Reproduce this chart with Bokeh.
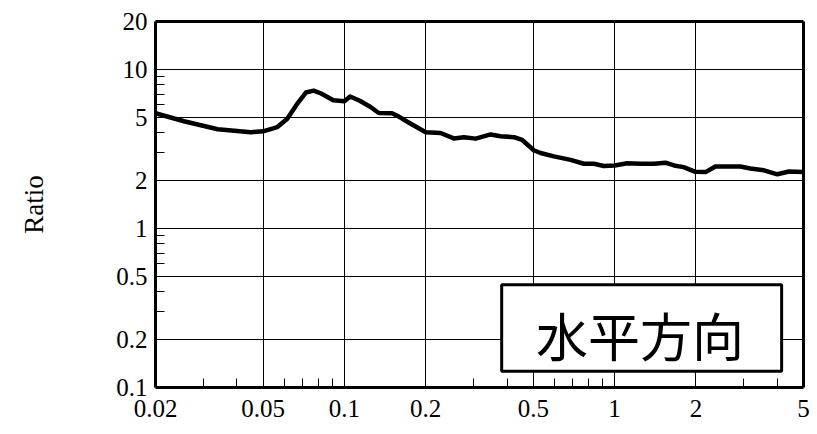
from bokeh.plotting import figure
from bokeh.models import (Range1d, FixedTicker, CustomJSTickFormatter,
                          BoxAnnotation, Label, LogAxis)
from bokeh.embed import file_html
from bokeh.resources import INLINE

# Spectral ratio curve (frequency-like abscissa vs ratio)
freq = [0.02, 0.0255, 0.034, 0.045, 0.05, 0.0565, 0.0615, 0.067, 0.072, 0.077,
        0.082, 0.091, 0.1, 0.105, 0.114, 0.125, 0.134, 0.15, 0.159, 0.176,
        0.2, 0.227, 0.254, 0.277, 0.306, 0.348, 0.378, 0.424, 0.455, 0.502,
        0.532, 0.596, 0.687, 0.77, 0.838, 0.912, 1.0, 1.114, 1.25, 1.40,
        1.54, 1.66, 1.80, 1.99, 2.17, 2.36, 2.92, 3.18, 3.57, 4.0, 4.42, 5.0]
ratio = [5.3, 4.72, 4.2, 4.03, 4.08, 4.34, 4.9, 6.1, 7.15, 7.35,
         7.05, 6.4, 6.3, 6.75, 6.35, 5.8, 5.32, 5.3, 5.05, 4.55,
         4.03, 3.98, 3.68, 3.74, 3.67, 3.9, 3.8, 3.75, 3.6, 3.1,
         2.98, 2.84, 2.7, 2.55, 2.55, 2.47, 2.49, 2.57, 2.55, 2.55,
         2.59, 2.49, 2.43, 2.27, 2.26, 2.45, 2.45, 2.38, 2.32, 2.19, 2.28, 2.26]

x_ticks = [0.02, 0.05, 0.1, 0.2, 0.5, 1, 2, 5]
x_tick_labels = ["0.02", "0.05", "0.1", "0.2", "0.5", "1", "2", "5"]
x_minor = [0.03, 0.04, 0.06, 0.07, 0.08, 0.09, 0.3, 0.4, 0.6, 0.7, 0.8, 0.9, 3, 4]

y_ticks = [0.1, 0.2, 0.5, 1, 2, 5, 10, 20]
y_tick_labels = ["0.1", "0.2", "0.5", "1", "2", "5", "10", "20"]
y_minor = [0.3, 0.4, 0.6, 0.7, 0.8, 0.9, 3, 4, 6, 7, 8, 9]

y_title = "Ratio"
tag_text = "水平方向"

SERIF = "Liberation Serif"
X_MIN, X_MAX = 0.02, 5
Y_MIN, Y_MAX = 0.1, 20

p = figure(width=817, height=434, x_axis_type="log", y_axis_type="log",
           x_range=Range1d(X_MIN, X_MAX), y_range=Range1d(Y_MIN, Y_MAX),
           output_backend="svg", toolbar_location=None,
           min_border_left=155, min_border_right=14,
           min_border_top=21, min_border_bottom=47)

p.background_fill_color = "white"
p.border_fill_color = "white"
p.outline_line_color = None

fmt_code = """
for (let i = 0; i < vals.length; i++) {
  if (Math.abs(Math.log10(vals[i]) - Math.log10(tick)) < 1e-6) return labs[i];
}
return "";
"""

p.xaxis.ticker = FixedTicker(ticks=x_ticks, minor_ticks=x_minor)
p.xaxis.formatter = CustomJSTickFormatter(args=dict(vals=x_ticks, labs=x_tick_labels), code=fmt_code)
p.yaxis.ticker = FixedTicker(ticks=y_ticks, minor_ticks=y_minor)
p.yaxis.formatter = CustomJSTickFormatter(args=dict(vals=y_ticks, labs=y_tick_labels), code=fmt_code)

for ax in (p.xaxis, p.yaxis):
    ax.axis_line_color = "black"
    ax.axis_line_width = 3
    ax.major_tick_in = 0
    ax.major_tick_out = 0
    ax.minor_tick_in = 9
    ax.minor_tick_out = 0
    ax.minor_tick_line_color = "black"
    ax.minor_tick_line_width = 1
    ax.major_label_text_font = SERIF
    ax.major_label_text_font_size = "25px"
    ax.major_label_text_color = "black"

p.xaxis.major_label_standoff = 12
p.yaxis.major_label_standoff = 8

p.yaxis.axis_label = y_title
p.yaxis.axis_label_text_font = SERIF
p.yaxis.axis_label_text_font_size = "27px"
p.yaxis.axis_label_text_font_style = "normal"
p.yaxis.axis_label_text_color = "black"
p.yaxis.axis_label_standoff = 64

# Plain heavy lines closing the frame on the top and right sides
for side in ("above", "right"):
    edge = LogAxis(ticker=FixedTicker(ticks=[], minor_ticks=[]),
                   axis_line_color="black", axis_line_width=3,
                   major_tick_line_color=None, minor_tick_line_color=None,
                   major_label_text_font_size="0px",
                   major_tick_out=0, major_tick_in=0,
                   minor_tick_out=0, minor_tick_in=0,
                   major_label_standoff=0)
    p.add_layout(edge, side)

for g in (p.xgrid, p.ygrid):
    g.grid_line_color = "black"
    g.grid_line_width = 1
    g.grid_line_alpha = 1.0

p.line(freq, ratio, line_color="black", line_width=4.5, line_join="round")

# Boxed caption in the lower right of the frame
p.add_layout(BoxAnnotation(left=0.382, right=4.15, bottom=0.1266, top=0.443,
                           fill_color="white", fill_alpha=1.0,
                           line_color="black", line_alpha=1.0, line_width=3))
p.add_layout(Label(x=1.242, y=0.2154, text=tag_text,
                   text_font="Noto Sans CJK JP", text_font_size="52px",
                   text_align="center", text_baseline="middle",
                   text_color="black"))

open("out.html", "w").write(file_html(p, INLINE))
